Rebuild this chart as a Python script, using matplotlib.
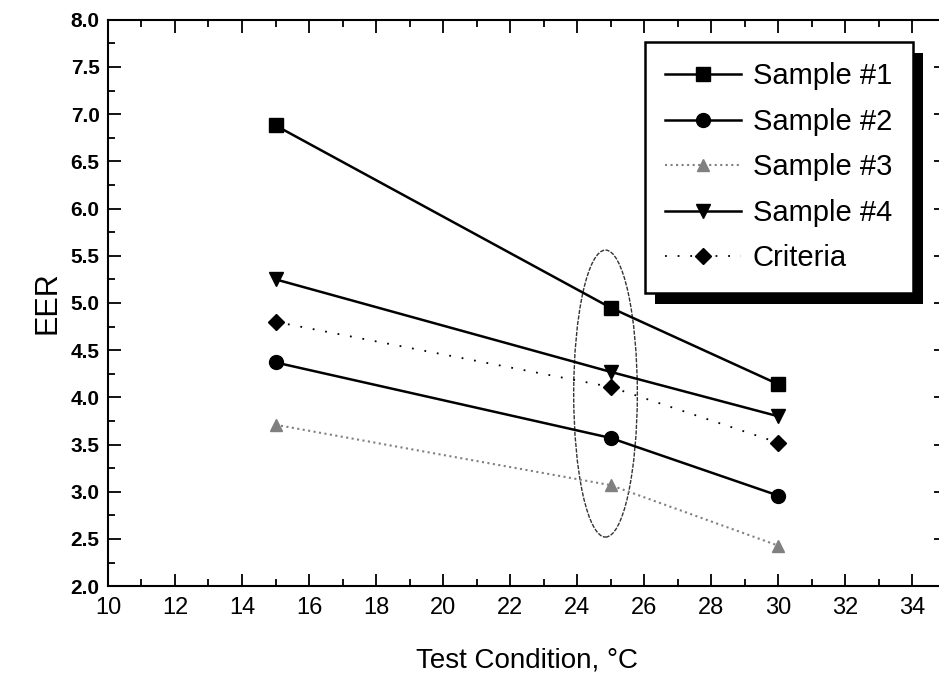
import numpy as np
import matplotlib
matplotlib.use("Agg")
import matplotlib.pyplot as plt
from matplotlib.patches import Ellipse, Rectangle
from matplotlib.ticker import MultipleLocator

plt.rcParams['font.family'] = ['Liberation Sans', 'DejaVu Sans']

# data
temps = [15, 25, 30]
sample1 = [6.88, 4.95, 4.14]
sample2 = [4.37, 3.57, 2.96]
sample3 = [3.71, 3.07, 2.43]
sample4 = [5.25, 4.27, 3.80]
criteria = [4.80, 4.11, 3.52]
labels = ["Sample #1", "Sample #2", "Sample #3", "Sample #4", "Criteria"]

fig = plt.figure(figsize=(9.39, 6.8), dpi=100)
ax = fig.add_axes([0.115, 0.138, 0.892, 0.833])

ax.plot(temps, sample1, '-', color='black', lw=1.8, marker='s', ms=10, label=labels[0])
ax.plot(temps, sample2, '-', color='black', lw=1.8, marker='o', ms=10, label=labels[1])
ax.plot(temps, sample3, ':', color='#808080', lw=1.5, marker='^', ms=9, label=labels[2])
ax.plot(temps, sample4, '-', color='black', lw=1.8, marker='v', ms=10, label=labels[3])
ax.plot(temps, criteria, linestyle=(0, (1, 6)), color='black', lw=1.3, marker='D', ms=8, label=labels[4])

# highlight around the 25 C points
ell = Ellipse((24.85, 4.04), 1.9, 3.04, fill=False, edgecolor='#333333',
              lw=1.0, linestyle=(0, (3, 1)))
ax.add_patch(ell)

ax.set_xlim(10, 35)
ax.set_ylim(2.0, 8.0)
ax.xaxis.set_major_locator(MultipleLocator(2))
ax.xaxis.set_minor_locator(MultipleLocator(1))
ax.yaxis.set_major_locator(MultipleLocator(0.5))
ax.yaxis.set_minor_locator(MultipleLocator(0.25))
ax.set_xticks(np.arange(10, 35, 2))
ax.set_xticklabels([str(v) for v in range(10, 35, 2)])
ax.set_yticks(np.arange(2.0, 8.01, 0.5))
ax.set_yticklabels(["%.1f" % v for v in np.arange(2.0, 8.01, 0.5)])

ax.tick_params(which='both', direction='in', top=True, right=True, width=1.3)
ax.tick_params(which='major', length=9)
ax.tick_params(which='minor', length=5)
for lab in ax.get_yticklabels():
    lab.set_fontsize(15)
    lab.set_fontweight('bold')
for lab in ax.get_xticklabels():
    lab.set_fontsize(17)
    lab.set_family(['Liberation Sans Narrow', 'Liberation Sans'])
ax.tick_params(axis='x', pad=8)
ax.tick_params(axis='y', pad=6)

for sp in ax.spines.values():
    sp.set_linewidth(1.5)

ax.set_ylabel("EER", fontsize=22, labelpad=6)
ax.set_xlabel("Test Condition, °C", fontsize=20, labelpad=20)

leg = ax.legend(loc='upper left', bbox_to_anchor=(0.641, 0.961), fontsize=21,
                frameon=True, fancybox=False, edgecolor='black', numpoints=1,
                framealpha=1, borderaxespad=0,
                handlelength=2.6, handletextpad=0.4, labelspacing=0.6,
                borderpad=0.7)
leg.get_frame().set_linewidth(1.8)
leg.set_zorder(5)

# drop shadow behind the legend box
fig.canvas.draw()
bb = leg.get_frame().get_window_extent().transformed(fig.transFigure.inverted())
off_x = 10 / 939
off_y = 11 / 680
shadow = Rectangle((bb.x0 + off_x, bb.y0 - off_y), bb.width, bb.height,
                   transform=fig.transFigure, facecolor='black', edgecolor='none',
                   zorder=4)
ax.add_patch(shadow)
shadow.set_clip_on(False)

fig.savefig("out.png", dpi=100)
